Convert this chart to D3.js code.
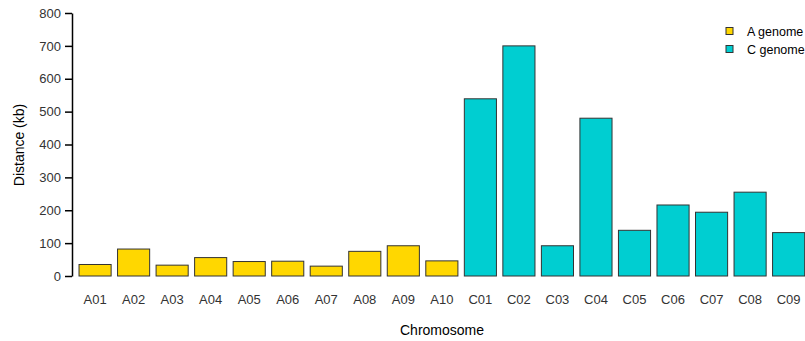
<!DOCTYPE html>
<html>
<head>
<meta charset="utf-8">
<script src="https://cdn.jsdelivr.net/npm/d3@7"></script>
<style>
  body{margin:0;background:#fff;}
  svg{font-family:"Liberation Sans",Arial,sans-serif;}
</style>
</head>
<body>
<svg id="chart" width="805" height="341"></svg>
<script>
// chromosome names, genome group and distance (kb)
var chromosomes=["A01","A02","A03","A04","A05","A06","A07","A08","A09","A10",
                 "C01","C02","C03","C04","C05","C06","C07","C08","C09"];
var genomes=["A","A","A","A","A","A","A","A","A","A",
             "C","C","C","C","C","C","C","C","C"];
var distances=[35,82,33,56,44,45,30,75,92,46,
               539,700,92,480,139,216,194,255,132];
var yTicks=[0,100,200,300,400,500,600,700,800];
var legendLabels=["A genome","C genome"];
var colors={A:"#FFD700",C:"#00CED1"};

var svg=d3.select("#chart");
var axisX=72;
var plotTop=13, plotBottom=276;

var x=d3.scaleBand()
    .domain(chromosomes)
    .range([72.6,811.1])
    .paddingInner(1/6)
    .paddingOuter(1/6);

var y=d3.scaleLinear()
    .domain([0,800])
    .range([plotBottom,plotTop]);

var data=chromosomes.map(function(c,i){
    return {name:c,genome:genomes[i],value:distances[i]};
});

// bars
svg.selectAll("rect.bar")
    .data(data)
    .enter().append("rect")
    .attr("class","bar")
    .attr("x",function(d){return x(d.name);})
    .attr("width",x.bandwidth())
    .attr("y",function(d){return y(d.value);})
    .attr("height",function(d){return y(0)-y(d.value);})
    .attr("fill",function(d){return colors[d.genome];})
    .attr("stroke","#333")
    .attr("stroke-width",1);

// y axis
var yAxis=svg.append("g")
    .attr("transform","translate("+axisX+",0)")
    .call(d3.axisLeft(y).tickValues(yTicks).tickSize(7).tickPadding(4).tickSizeOuter(0));
yAxis.select(".domain").attr("stroke","#000").attr("stroke-width",1.5);
yAxis.selectAll(".tick line").attr("stroke","#000").attr("stroke-width",1.5);
yAxis.selectAll(".tick text")
    .attr("fill","#333")
    .style("font-size","13px")
    .style("font-family","Liberation Sans, Arial, sans-serif");

// x labels
svg.selectAll("text.xlab")
    .data(chromosomes)
    .enter().append("text")
    .attr("class","xlab")
    .attr("x",function(d){return x(d)+x.bandwidth()/2;})
    .attr("y",304)
    .attr("text-anchor","middle")
    .attr("fill","#333")
    .style("font-size","13px")
    .text(function(d){return d;});

// axis titles
svg.append("text")
    .attr("x",442)
    .attr("y",335)
    .attr("text-anchor","middle")
    .attr("fill","#000")
    .style("font-size","14px")
    .text("Chromosome");

svg.append("text")
    .attr("transform","translate(24,145) rotate(-90)")
    .attr("text-anchor","middle")
    .attr("fill","#000")
    .style("font-size","14px")
    .text("Distance (kb)");

// legend
var legend=svg.selectAll("g.legend")
    .data(legendLabels)
    .enter().append("g")
    .attr("class","legend")
    .attr("transform",function(d,i){return "translate(726,"+(31+i*18)+")";});

legend.append("rect")
    .attr("x",0)
    .attr("y",-3.5)
    .attr("width",7)
    .attr("height",7)
    .attr("fill",function(d,i){return i==0 ? colors.A : colors.C;})
    .attr("stroke","#333");

legend.append("text")
    .attr("x",21)
    .attr("y",4.5)
    .attr("fill","#000")
    .style("font-size","12.5px")
    .text(function(d){return d;});
</script>
</body>
</html>
